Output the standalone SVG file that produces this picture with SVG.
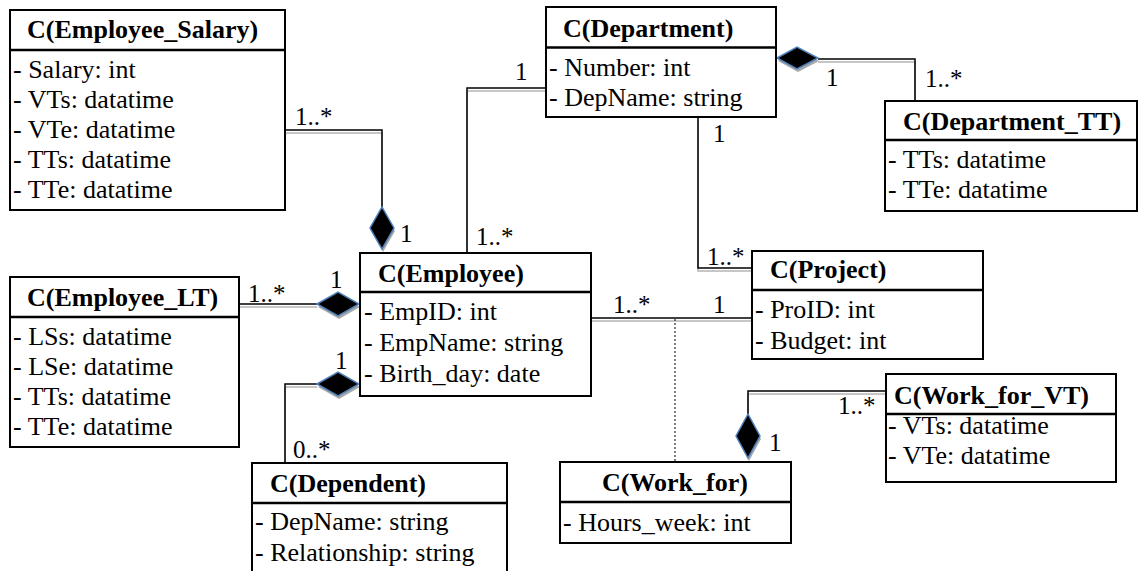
<svg xmlns="http://www.w3.org/2000/svg" width="1138" height="571" viewBox="0 0 1138 571">
<style>
.box{fill:#fff;stroke:#000;stroke-width:2}
.div{stroke:#000;stroke-width:2.5}
text{font-family:"Liberation Serif","DejaVu Serif",serif;fill:#000}
.t{font-size:26px;font-weight:bold}
.a{font-size:26px}
.l{font-size:25px}
.ln{fill:none;stroke:#000;stroke-width:1.5}
.sh{fill:none;stroke:#b4b4b4;stroke-width:1.5}
.dm{fill:#000;stroke:#4f81bd;stroke-width:1.5}
.dms{fill:#a8a8a8;stroke:none}
.dot{fill:none;stroke:#000;stroke-width:1;stroke-dasharray:2,2}
</style>
<rect width="1138" height="571" fill="#fff"/>
<g id="connectors">
<g transform="translate(0,3)">
<path class="sh" d="M285,130 H382 V207"/>
<path class="sh" d="M239,304 H317"/>
<path class="sh" d="M317,384 H285 V463"/>
<path class="sh" d="M467,253 V88 H546"/>
<path class="sh" d="M698,117 V268 H752"/>
<path class="sh" d="M818,59 H915 V101"/>
<path class="sh" d="M591,318 H752"/>
<path class="sh" d="M748,414 V391 H886"/>
<polygon class="dms" transform="translate(1,0)" points="382,207 394,228 382,249 370,228"/>
<polygon class="dms" transform="translate(1,0)" points="317,304 338,292 359,304 338,316"/>
<polygon class="dms" transform="translate(1,0)" points="317,384 338,372 359,384 338,396"/>
<polygon class="dms" transform="translate(1,0)" points="777,58 797,47 818,58 797,69"/>
<polygon class="dms" transform="translate(1,0)" points="748,414 760,436 748,458 736,436"/>
</g>
<path class="ln" d="M285,130 H382 V207"/>
<path class="ln" d="M239,304 H317"/>
<path class="ln" d="M317,384 H285 V463"/>
<path class="ln" d="M467,253 V88 H546"/>
<path class="ln" d="M698,117 V268 H752"/>
<path class="ln" d="M818,59 H915 V101"/>
<path class="ln" d="M591,318 H752"/>
<path class="ln" d="M748,414 V391 H886"/>
<path class="dot" d="M675,319 V462"/>
<polygon class="dm" points="382,207 394,228 382,249 370,228"/>
<polygon class="dm" points="317,304 338,292 359,304 338,316"/>
<polygon class="dm" points="317,384 338,372 359,384 338,396"/>
<polygon class="dm" points="777,58 797,47 818,58 797,69"/>
<polygon class="dm" points="748,414 760,436 748,458 736,436"/>
<text class="l" x="295" y="125">1..*</text>
<text class="l" x="400" y="242">1</text>
<text class="l" x="515" y="80">1</text>
<text class="l" x="476" y="245">1..*</text>
<text class="l" x="826" y="86">1</text>
<text class="l" x="925" y="87">1..*</text>
<text class="l" x="713" y="142">1</text>
<text class="l" x="707" y="265">1..*</text>
<text class="l" x="330" y="288">1</text>
<text class="l" x="248" y="302">1..*</text>
<text class="l" x="335" y="369">1</text>
<text class="l" x="293" y="458">0..*</text>
<text class="l" x="613" y="313">1..*</text>
<text class="l" x="713" y="313">1</text>
<text class="l" x="769" y="451">1</text>
<text class="l" x="838" y="414">1..*</text>
</g>
<g id="employee_salary">
<rect class="box" x="10" y="10" width="275" height="200"/>
<line class="div" x1="10" y1="50" x2="285" y2="50"/>
<text class="t" x="27" y="38">C(Employee_Salary)</text>
<text class="a" x="13" y="78">- Salary: int</text>
<text class="a" x="13" y="108">- VTs: datatime</text>
<text class="a" x="13" y="138">- VTe: datatime</text>
<text class="a" x="13" y="168">- TTs: datatime</text>
<text class="a" x="13" y="198">- TTe: datatime</text>
</g>
<g id="department">
<rect class="box" x="546" y="7" width="230" height="110"/>
<line class="div" x1="546" y1="47.5" x2="776" y2="47.5"/>
<text class="t" x="563" y="37">C(Department)</text>
<text class="a" x="549" y="76">- Number: int</text>
<text class="a" x="549" y="106">- DepName: string</text>
</g>
<g id="department_tt">
<rect class="box" x="885" y="101" width="252" height="110"/>
<line class="div" x1="885" y1="140" x2="1137" y2="140"/>
<text class="t" x="903" y="130">C(Department_TT)</text>
<text class="a" x="888" y="168">- TTs: datatime</text>
<text class="a" x="888" y="198">- TTe: datatime</text>
</g>
<g id="employee_lt">
<rect class="box" x="10" y="277" width="229" height="170"/>
<line class="div" x1="10" y1="317" x2="239" y2="317"/>
<text class="t" x="27" y="306">C(Employee_LT)</text>
<text class="a" x="13" y="345">- LSs: datatime</text>
<text class="a" x="13" y="375">- LSe: datatime</text>
<text class="a" x="13" y="405">- TTs: datatime</text>
<text class="a" x="13" y="435">- TTe: datatime</text>
</g>
<g id="employee">
<rect class="box" x="360" y="253" width="231" height="143"/>
<line class="div" x1="360" y1="292" x2="591" y2="292"/>
<text class="t" x="378" y="282">C(Employee)</text>
<text class="a" x="364" y="320">- EmpID: int</text>
<text class="a" x="364" y="351">- EmpName: string</text>
<text class="a" x="364" y="382">- Birth_day: date</text>
</g>
<g id="project">
<rect class="box" x="752" y="251" width="231" height="108"/>
<line class="div" x1="752" y1="290" x2="983" y2="290"/>
<text class="t" x="770" y="278">C(Project)</text>
<text class="a" x="755" y="318">- ProID: int</text>
<text class="a" x="755" y="349">- Budget: int</text>
</g>
<g id="work_for_vt">
<rect class="box" x="886" y="374" width="230" height="108"/>
<line class="div" x1="886" y1="414" x2="1116" y2="414"/>
<text class="t" x="894" y="404">C(Work_for_VT)</text>
<text class="a" x="888" y="434">- VTs: datatime</text>
<text class="a" x="888" y="464">- VTe: datatime</text>
</g>
<g id="dependent">
<rect class="box" x="252" y="463" width="255" height="112"/>
<line class="div" x1="252" y1="503" x2="507" y2="503"/>
<text class="t" x="270" y="492">C(Dependent)</text>
<text class="a" x="255" y="530">- DepName: string</text>
<text class="a" x="255" y="561">- Relationship: string</text>
</g>
<g id="work_for">
<rect class="box" x="560" y="462" width="231" height="81"/>
<line class="div" x1="560" y1="502" x2="791" y2="502"/>
<text class="t" x="602" y="491">C(Work_for)</text>
<text class="a" x="563" y="531">- Hours_week: int</text>
</g>
</svg>
